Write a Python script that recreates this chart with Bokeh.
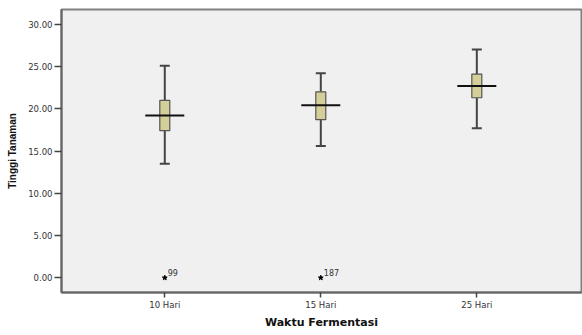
from bokeh.plotting import figure
from bokeh.models import Range1d, FixedTicker, NumeralTickFormatter, ColumnDataSource
from bokeh.embed import file_html
from bokeh.resources import INLINE
from bokeh.core.properties import value

categories = ["10 Hari", "15 Hari", "25 Hari"]
whisker_low = [13.5, 15.6, 17.7]
q1 = [17.4, 18.7, 21.3]
median = [19.2, 20.4, 22.7]
q3 = [21.0, 22.0, 24.1]
whisker_high = [25.1, 24.2, 27.0]
outlier_group = [0, 1]
outlier_value = [0.0, 0.0]
outlier_label = ["99", "187"]
y_ticks = [0, 5, 10, 15, 20, 25, 30]

xs = list(range(len(categories)))
box_w = 0.064
med_w = 0.25

p = figure(width=582, height=335, output_backend="svg", toolbar_location=None,
           x_range=Range1d(-0.662, 2.671), y_range=Range1d(-1.74, 31.74),
           min_border_left=61, min_border_right=1, min_border_top=9, min_border_bottom=43)
p.background_fill_color = "#f0f0f0"
p.border_fill_color = "white"
p.outline_line_color = "#808080"
p.outline_line_width = 2
p.xgrid.visible = False
p.ygrid.visible = False

src = ColumnDataSource(dict(x=xs, lo=whisker_low, q1=q1, med=median, q3=q3, hi=whisker_high,
                            xl=[x - box_w / 2 for x in xs], xr=[x + box_w / 2 for x in xs],
                            ml=[x - med_w / 2 for x in xs], mr=[x + med_w / 2 for x in xs]))

p.segment(x0="x", y0="q3", x1="x", y1="hi", source=src, line_color="#444444", line_width=2)
p.segment(x0="x", y0="q1", x1="x", y1="lo", source=src, line_color="#444444", line_width=2)
p.segment(x0="xl", y0="hi", x1="xr", y1="hi", source=src, line_color="#444444", line_width=2)
p.segment(x0="xl", y0="lo", x1="xr", y1="lo", source=src, line_color="#444444", line_width=2)
p.vbar(x="x", width=box_w, bottom="q1", top="q3", source=src,
       fill_color="#d4cf98", line_color="#555555", line_width=1.2)
p.segment(x0="ml", y0="med", x1="mr", y1="med", source=src, line_color="#111111", line_width=2)

osrc = ColumnDataSource(dict(x=outlier_group, y=outlier_value, t=outlier_label))
p.scatter(x="x", y="y", source=osrc, marker="star", size=5, fill_color="black", line_color="black")
p.text(x="x", y="y", text="t", source=osrc, x_offset=3, y_offset=-2,
       text_font=value("DejaVu Sans"), text_font_size="8px", text_color="#333333",
       text_baseline="bottom", text_align="left")

p.xaxis.ticker = FixedTicker(ticks=xs)
p.xaxis.major_label_overrides = {i: c for i, c in enumerate(categories)}
p.yaxis.ticker = FixedTicker(ticks=y_ticks)
p.yaxis.formatter = NumeralTickFormatter(format="0.00")

for ax in (p.xaxis[0], p.yaxis[0]):
    ax.axis_line_color = "#666666"
    ax.axis_line_width = 2
    ax.major_tick_line_color = "#444444"
    ax.major_tick_line_width = 1.5
    ax.minor_tick_line_color = None
    ax.major_tick_in = 0
    ax.major_label_text_font = "DejaVu Sans"
    ax.major_label_text_font_size = "8.5px"
    ax.major_label_text_color = "#333333"
    ax.axis_label_text_font_style = "bold"
    ax.axis_label_text_color = "#111111"

p.xaxis.major_tick_out = 5
p.yaxis.major_tick_out = 7
p.xaxis.major_label_standoff = 2
p.yaxis.major_label_standoff = 2
p.xaxis.axis_label = "Waktu Fermentasi"
p.xaxis.axis_label_text_font = "DejaVu Sans"
p.xaxis.axis_label_text_font_size = "11px"
p.xaxis.axis_label_standoff = 3
p.yaxis.axis_label = "Tinggi Tanaman"
p.yaxis.axis_label_text_font = "Liberation Sans"
p.yaxis.axis_label_text_font_size = "10px"
p.yaxis.axis_label_standoff = 7

open("out.html", "w").write(file_html(p, INLINE))
